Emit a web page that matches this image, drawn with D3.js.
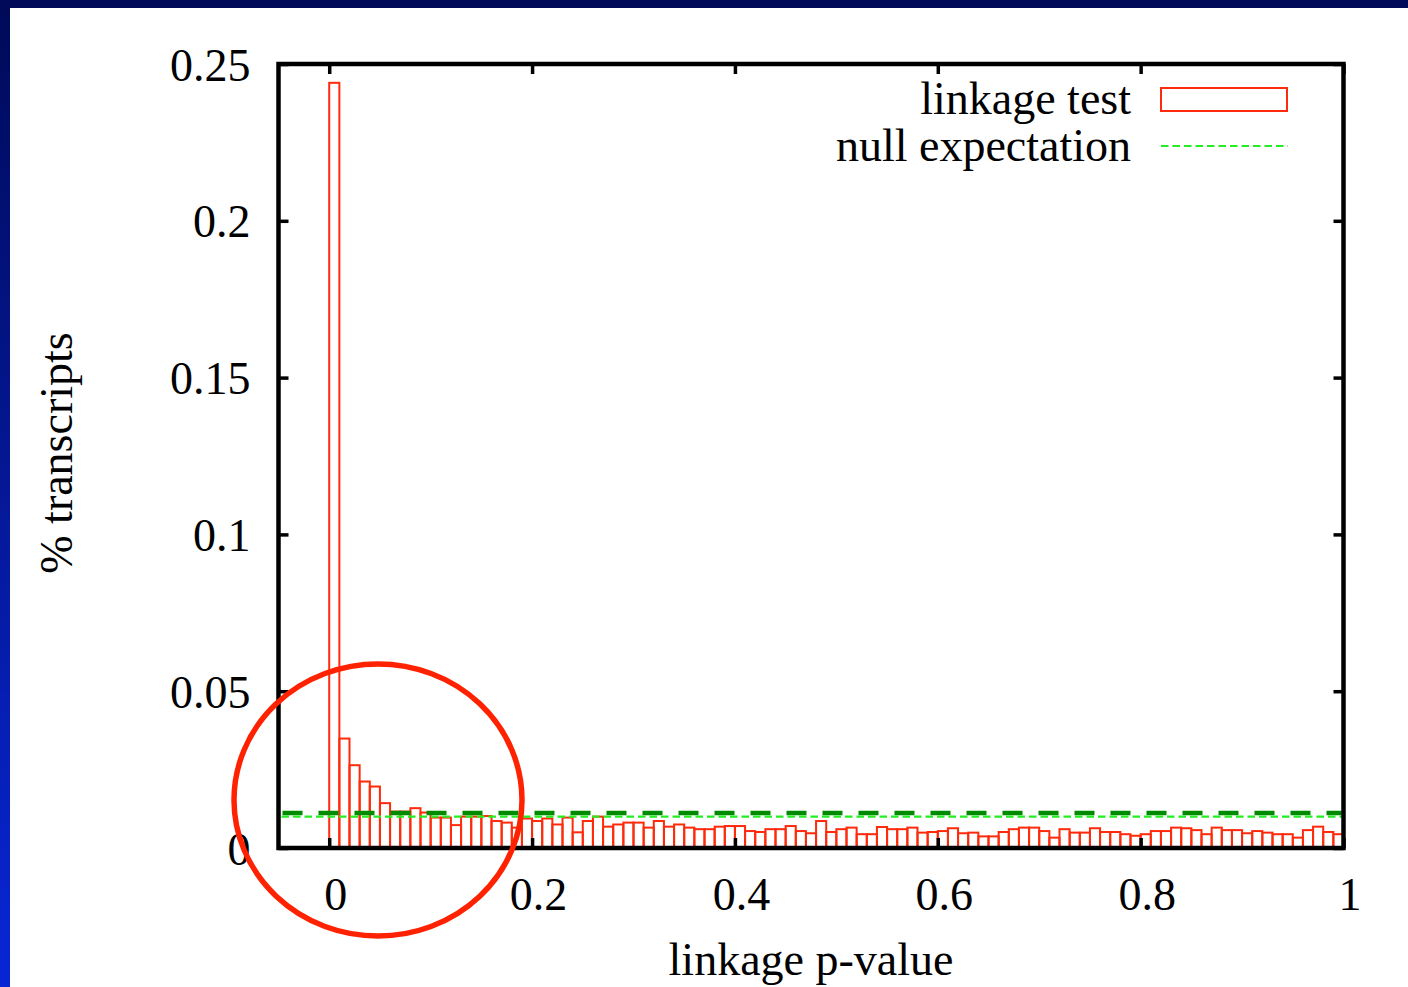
<!DOCTYPE html>
<html>
<head>
<meta charset="utf-8">
<script src="https://cdn.jsdelivr.net/npm/d3@7"></script>
<style>
  body { margin: 0; overflow: hidden; }
  svg { display: block; }
  text { font-family: "Liberation Serif", "Times New Roman", serif; fill: #000; }
</style>
</head>
<body>
<script>
// histogram of linkage p-values, bins of width 0.01 from 0 to 1
const binWidth = 0.01;
const linkageFreq = [
  0.2440, 0.0349, 0.0264, 0.0212, 0.0196, 0.0143, 0.0116, 0.0116, 0.0127, 0.0113,
  0.0097, 0.0097, 0.0073, 0.0100, 0.0100, 0.0102, 0.0086, 0.0081, 0.0065, 0.0094,
  0.0086, 0.0094, 0.0075, 0.0097, 0.0050, 0.0086, 0.0100, 0.0068, 0.0075, 0.0081,
  0.0081, 0.0065, 0.0086, 0.0068, 0.0075, 0.0065, 0.0060, 0.0060, 0.0068, 0.0070,
  0.0070, 0.0054, 0.0051, 0.0060, 0.0060, 0.0070, 0.0054, 0.0047, 0.0086, 0.0051,
  0.0060, 0.0065, 0.0044, 0.0044, 0.0067, 0.0060, 0.0060, 0.0065, 0.0049, 0.0051,
  0.0054, 0.0063, 0.0047, 0.0049, 0.0037, 0.0037, 0.0051, 0.0060, 0.0065, 0.0065,
  0.0054, 0.0033, 0.0060, 0.0049, 0.0049, 0.0063, 0.0051, 0.0051, 0.0044, 0.0039,
  0.0044, 0.0054, 0.0054, 0.0065, 0.0063, 0.0057, 0.0044, 0.0065, 0.0057, 0.0057,
  0.0047, 0.0054, 0.0049, 0.0044, 0.0044, 0.0033, 0.0057, 0.0068, 0.0051, 0.0044
];
const nullExpectation = 0.01;
const thresholdLevel = 0.0112;   // thick dark green dashed line

const xTicks = [0, 0.2, 0.4, 0.6, 0.8, 1];
const xTickLabels = ["0", "0.2", "0.4", "0.6", "0.8", "1"];
const yTicks = [0, 0.05, 0.1, 0.15, 0.2, 0.25];
const yTickLabels = ["0", "0.05", "0.1", "0.15", "0.2", "0.25"];
const legendLabels = ["linkage test", "null expectation"];

const width = 1408, height = 987;
const plot = { left: 278.5, right: 1343.5, top: 64, bottom: 848 };

const barRed = "#ff2a0c";

let svg = d3.select("body")
  .append("svg")
  .attr("width", width)
  .attr("height", height);

// slide background
let grad = svg.append("defs").append("linearGradient")
  .attr("id", "bg").attr("x1", 0).attr("y1", 0).attr("x2", 0).attr("y2", 1);
grad.append("stop").attr("offset", "0%").attr("stop-color", "#000a58");
grad.append("stop").attr("offset", "100%").attr("stop-color", "#0826d6");
svg.append("rect").attr("width", width).attr("height", height).attr("fill", "url(#bg)");
svg.append("rect").attr("x", 10).attr("y", 8).attr("width", width - 10).attr("height", height - 8).attr("fill", "#fff");

// scales
let x = d3.scaleLinear().domain([-0.05, 1]).range([plot.left, plot.right]);
let y = d3.scaleLinear().domain([0, 0.25]).range([plot.bottom, plot.top]);

// bars
svg.append("g")
  .selectAll("rect")
  .data(linkageFreq)
  .enter()
  .append("rect")
  .attr("x", (d, i) => x(i * binWidth))
  .attr("y", d => y(d))
  .attr("width", x(binWidth) - x(0))
  .attr("height", d => y(0) - y(d))
  .attr("fill", "none")
  .attr("stroke", barRed)
  .attr("stroke-width", 2);

// dashed reference lines
svg.append("line")
  .attr("x1", x(-0.05) + 4).attr("x2", plot.right)
  .attr("y1", y(thresholdLevel)).attr("y2", y(thresholdLevel))
  .attr("stroke", "#008a00").attr("stroke-width", 4.5)
  .attr("stroke-dasharray", "20 16");
svg.append("line")
  .attr("x1", x(-0.05) + 3).attr("x2", plot.right)
  .attr("y1", y(nullExpectation)).attr("y2", y(nullExpectation))
  .attr("stroke", "#22ee22").attr("stroke-width", 2.2)
  .attr("stroke-dasharray", "7.5 4");

// axes, ticks pointing inward on all four sides
function styleAxis(g) {
  g.select(".domain").remove();
  g.selectAll(".tick line").attr("stroke", "#000").attr("stroke-width", 3.5);
  g.selectAll("text").style("font-family", "'Liberation Serif', serif").style("font-size", "46px").attr("fill", "#000");
}

let xAxisBottom = d3.axisBottom(x).tickValues(xTicks).tickSizeInner(-10).tickSizeOuter(0)
  .tickFormat((d, i) => xTickLabels[i]);
svg.append("g")
  .attr("transform", "translate(0," + plot.bottom + ")")
  .call(xAxisBottom)
  .call(styleAxis)
  .selectAll("text").attr("x", 6).attr("y", 62).attr("dy", 0);

svg.append("g")
  .attr("transform", "translate(0," + plot.top + ")")
  .call(d3.axisTop(x).tickValues(xTicks).tickSizeInner(-10).tickSizeOuter(0).tickFormat(""))
  .call(styleAxis);

let yAxisLeft = d3.axisLeft(y).tickValues(yTicks).tickSizeInner(-10).tickSizeOuter(0)
  .tickPadding(28).tickFormat((d, i) => yTickLabels[i]);
svg.append("g")
  .attr("transform", "translate(" + plot.left + ",0)")
  .call(yAxisLeft)
  .call(styleAxis)
  .selectAll("text").attr("dy", "0.35em");

svg.append("g")
  .attr("transform", "translate(" + plot.right + ",0)")
  .call(d3.axisRight(y).tickValues(yTicks).tickSizeInner(-10).tickSizeOuter(0).tickFormat(""))
  .call(styleAxis);

// frame
svg.append("rect")
  .attr("x", plot.left).attr("y", plot.top)
  .attr("width", plot.right - plot.left).attr("height", plot.bottom - plot.top)
  .attr("fill", "none").attr("stroke", "#000").attr("stroke-width", 4.5);

// axis titles
svg.append("text")
  .attr("x", 811).attr("y", 975)
  .style("text-anchor", "middle").style("font-size", "46px")
  .text("linkage p-value");

svg.append("text")
  .attr("transform", "translate(72,453) rotate(-90)")
  .style("text-anchor", "middle").style("font-size", "46px")
  .text("% transcripts");

// legend
let legend = svg.append("g");
legend.selectAll("text")
  .data(legendLabels)
  .enter()
  .append("text")
  .attr("x", 1131)
  .attr("y", (d, i) => 114 + i * 47)
  .style("text-anchor", "end").style("font-size", "46px")
  .text(d => d);
legend.append("rect")
  .attr("x", 1161).attr("y", 88).attr("width", 126).attr("height", 23)
  .attr("fill", "none").attr("stroke", barRed).attr("stroke-width", 2);
legend.append("line")
  .attr("x1", 1161).attr("x2", 1288).attr("y1", 146).attr("y2", 146)
  .attr("stroke", "#22ee22").attr("stroke-width", 2.2)
  .attr("stroke-dasharray", "7.5 4");

// hand-drawn highlight circle
svg.append("ellipse")
  .attr("cx", 378).attr("cy", 800).attr("rx", 144).attr("ry", 136)
  .attr("fill", "none").attr("stroke", "#ff2200").attr("stroke-width", 5.5);
</script>
</body>
</html>
